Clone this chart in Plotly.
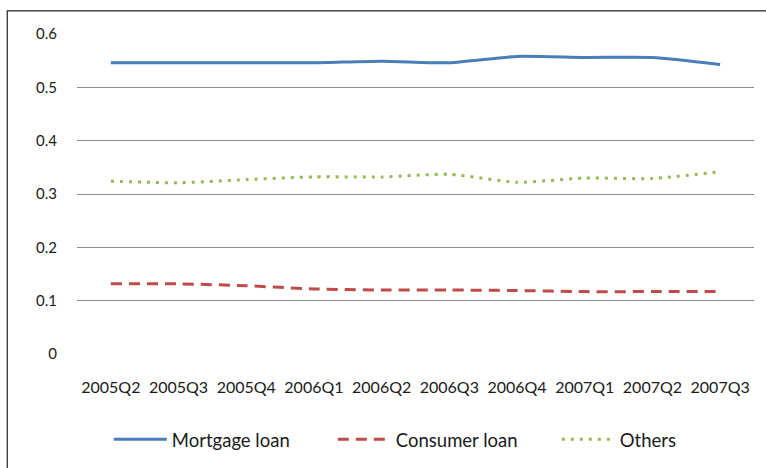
import plotly.graph_objects as go

quarters = ["2005Q2", "2005Q3", "2005Q4", "2006Q1", "2006Q2",
            "2006Q3", "2006Q4", "2007Q1", "2007Q2", "2007Q3"]
mortgage = [0.546, 0.546, 0.546, 0.546, 0.549, 0.546, 0.558, 0.556, 0.556, 0.543]
consumer = [0.1315, 0.1315, 0.128, 0.122, 0.120, 0.120, 0.119, 0.117, 0.117, 0.117]
others = [0.324, 0.321, 0.327, 0.332, 0.332, 0.337, 0.322, 0.330, 0.329, 0.342]
y_ticks = [0, 0.1, 0.2, 0.3, 0.4, 0.5, 0.6]
y_tick_text = ["0", "0.1", "0.2", "0.3", "0.4", "0.5", "0.6"]

FONT = "Lato"
TXT = "#1a1a1a"

fig = go.Figure()
fig.add_trace(go.Scatter(x=quarters, y=mortgage, name="Mortgage loan", mode="lines",
                         line=dict(color="#4A7EBB", width=3, shape="spline", smoothing=0.6)))
fig.add_trace(go.Scatter(x=quarters, y=consumer, name="Consumer loan", mode="lines",
                         line=dict(color="#BE4B48", width=3, dash="11px,7px", shape="spline", smoothing=0.6)))
fig.add_trace(go.Scatter(x=quarters, y=others, name="Others", mode="lines",
                         line=dict(color="#98B954", width=3, dash="3px,6px", shape="spline", smoothing=0.6)))

fig.update_layout(
    width=766, height=468,
    margin=dict(l=77, r=12, t=34, b=113.5, autoexpand=False),
    paper_bgcolor="white", plot_bgcolor="white",
    font=dict(family=FONT, size=16, color=TXT),
    showlegend=True,
    legend=dict(orientation="h", x=0.047, xanchor="left", y=-0.268, yanchor="middle",
                font=dict(family=FONT, size=18.5, color=TXT),
                itemwidth=53, entrywidth=156, entrywidthmode="pixels",
                traceorder="normal"),
    xaxis=dict(showgrid=False, zeroline=False, showline=False, ticks="",
               tickfont=dict(family=FONT, size=16, color=TXT), ticklabelstandoff=22,
               range=[-0.5, 9.5], fixedrange=True, automargin=False),
    yaxis=dict(range=[0, 0.6], tickvals=y_ticks, ticktext=y_tick_text,
               showgrid=True, gridcolor="#8C8C8C", gridwidth=1,
               zeroline=False, showline=False, ticks="",
               tickfont=dict(family=FONT, size=15, color=TXT), ticklabelstandoff=19,
               fixedrange=True, automargin=False),
    shapes=[dict(type="rect", xref="paper", yref="paper",
                 x0=-0.103, x1=1.03, y0=-0.40, y1=1.072,
                 line=dict(color="#222222", width=1.2), layer="below")],
)

fig.write_html("out.html", config={"displayModeBar": False},
               post_script="document.body.style.margin='0';")
